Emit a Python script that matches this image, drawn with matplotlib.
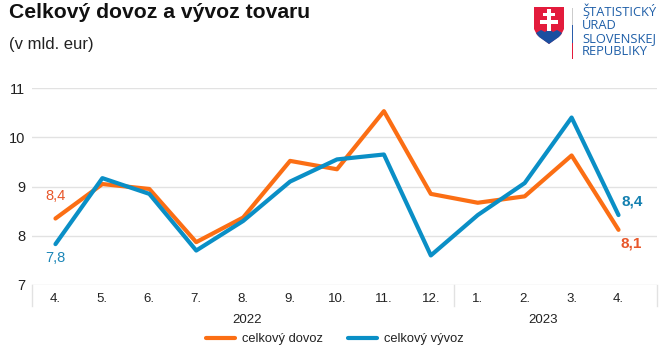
import matplotlib
matplotlib.use('Agg')
import matplotlib.pyplot as plt
from matplotlib.patches import Polygon, Rectangle

plt.rcParams['font.family'] = ['Liberation Sans', 'DejaVu Sans']

months = ['4.', '5.', '6.', '7.', '8.', '9.', '10.', '11.', '12.', '1.', '2.', '3.', '4.']
years = ['2022', '2023']
year_months = [9, 4]
dovoz = [8.35, 9.05, 8.95, 7.87, 8.37, 9.52, 9.35, 10.53, 8.85, 8.67, 8.80, 9.63, 8.12]
vyvoz = [7.83, 9.17, 8.85, 7.70, 8.30, 9.10, 9.55, 9.65, 7.60, 8.42, 9.07, 10.40, 8.42]
yticks = [7, 8, 9, 10, 11]

ORANGE = '#FB6E14'
BLUE = '#0A8FC6'
GRID = '#E2E2E2'
W, H = 660, 351

fig = plt.figure(figsize=(W / 100, H / 100), dpi=100)
ax = fig.add_axes([32 / W, 1 - 285 / H, 625 / W, 197 / H])
x = list(range(len(months)))

ax.plot(x, dovoz, color=ORANGE, lw=3, solid_joinstyle='round', solid_capstyle='round',
        label='celkový dovoz', zorder=3)
ax.plot(x, vyvoz, color=BLUE, lw=3, solid_joinstyle='round', solid_capstyle='round',
        label='celkový vývoz', zorder=4)

# the axis runs a bit past the last month, as in the original
ax.set_xlim(-0.5, len(months) - 0.18)
ax.set_ylim(7, 11)
ax.set_yticks(yticks)
ax.grid(axis='y', color=GRID, lw=1)
ax.set_axisbelow(True)
for s in ['top', 'right', 'left', 'bottom']:
    ax.spines[s].set_visible(False)
ax.tick_params(axis='both', length=0)
ax.tick_params(axis='y', labelsize=10.5, colors='#222222', pad=5)
ax.set_xticks(x)
ax.set_xticklabels(months, fontsize=9.5, color='#222222')
ax.tick_params(axis='x', pad=6)

# group separators and year labels under the axis
trans = ax.get_xaxis_transform()
seps = [-0.5, year_months[0] - 0.5, len(months) - 0.18]
for e in seps:
    ax.plot([e, e], [0, -0.107], transform=trans, color=GRID, lw=1, clip_on=False)
ax.text(4.08, -0.178, years[0], transform=trans, ha='center', va='center', fontsize=9.5, color='#222222')
ax.text(10.4, -0.178, years[1], transform=trans, ha='center', va='center', fontsize=9.5, color='#222222')

# data labels
ax.annotate('8,4', (0, dovoz[0]), xytext=(0, 16.5), textcoords='offset points', ha='center', va='center',
            fontsize=10.5, color='#E8562A')
ax.annotate('7,8', (0, vyvoz[0]), xytext=(0, -10), textcoords='offset points', ha='center', va='center',
            fontsize=10.5, color='#1B86B8')
ax.annotate('8,4', (12, vyvoz[-1]), xytext=(9.5, 10), textcoords='offset points', ha='center', va='center',
            fontsize=11, color='#1480B0', fontweight='bold')
ax.annotate('8,1', (12, dovoz[-1]), xytext=(9, -9.5), textcoords='offset points', ha='center', va='center',
            fontsize=11, color='#E8562A', fontweight='bold')

leg = fig.legend(loc='center', bbox_to_anchor=(334.5 / W, 1 - 339 / H), ncol=2, frameon=False,
                 fontsize=9.3, handlelength=2.25, columnspacing=1.94, handletextpad=0.54)
for t in leg.get_texts():
    t.set_color('#222222')

# title
fig.text(9 / W, 1 - 13 / H, 'Celkový dovoz a vývoz tovaru', fontsize=15.2, fontweight='bold',
         color='#111111', va='center')
fig.text(9 / W, 1 - 44 / H, '(v mld. eur)', fontsize=12, color='#222222', va='center')

# logo
lg = fig.add_axes([0, 0, 1, 1], facecolor='none')
lg.set_xlim(0, W)
lg.set_ylim(H, 0)
lg.axis('off')
lg.add_patch(Polygon([(534, 7), (564, 7), (564, 29), (561, 35), (549, 44), (537, 35), (534, 29)],
                     closed=True, fc='#E31B3C', ec='none'))
lg.add_patch(Polygon([(536, 33), (541, 30), (545, 32), (549, 29), (553, 32), (557, 30), (562, 33),
                      (559, 37), (549, 44), (539, 37)], closed=True, fc='#1A4FA0', ec='none'))
lg.add_patch(Rectangle((547, 9), 4, 22, fc='white', ec='none'))
lg.add_patch(Rectangle((543, 13), 12, 3, fc='white', ec='none'))
lg.add_patch(Rectangle((540, 20), 18, 3.5, fc='white', ec='none'))
lg.add_patch(Rectangle((572, 8), 1.2, 17, fc='#CCCCCC', ec='none'))
lg.add_patch(Rectangle((572, 25), 1.2, 18, fc='#2A5CAA', ec='none'))
lg.add_patch(Rectangle((572, 43), 1.2, 16, fc='#E31B3C', ec='none'))
for i, t in enumerate(['ŠTATISTICKÝ', 'ÚRAD', 'SLOVENSKEJ', 'REPUBLIKY']):
    lg.text(582, 12 + i * 13.2, t, fontsize=9.3, color='#1F5FA8', va='center', ha='left',
            family=['Open Sans', 'DejaVu Sans'])

fig.savefig('out.png', dpi=100)
